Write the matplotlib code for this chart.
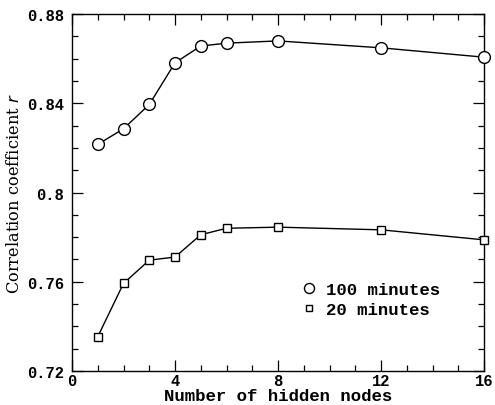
import matplotlib
matplotlib.use('Agg')
import matplotlib.pyplot as plt
from matplotlib.ticker import MultipleLocator

# values
hidden_nodes = [1, 2, 3, 4, 5, 6, 8, 12, 16]
r_100min = [0.8216, 0.8286, 0.8395, 0.8582, 0.8657, 0.8670, 0.8680, 0.8649, 0.8607]
r_20min = [0.7354, 0.7593, 0.7697, 0.7711, 0.7811, 0.7840, 0.7845, 0.7833, 0.7788]
x_ticks = [0, 4, 8, 12, 16]
y_ticks = [0.72, 0.76, 0.8, 0.84, 0.88]
y_tick_labels = ['0.72', '0.76', '0.8', '0.84', '0.88']

MONO = 'Liberation Mono'
SERIF = 'DejaVu Serif'
plt.rcParams['font.family'] = MONO

fig = plt.figure(figsize=(4.95, 4.06), dpi=100)
ax = fig.add_axes([0.1455, 0.0837, 0.8325, 0.879])

ax.plot(hidden_nodes, r_100min, color='black', lw=1.0, marker='o', ms=8.5,
        mfc='white', mec='black', mew=1.0, label='100 minutes', clip_on=False, zorder=3)
ax.plot(hidden_nodes, r_20min, color='black', lw=1.0, marker='s', ms=5.5,
        mfc='white', mec='black', mew=1.0, label='20 minutes', clip_on=False, zorder=3)

ax.set_xlim(0, 16)
ax.set_ylim(0.72, 0.88)
ax.set_xticks(x_ticks)
ax.set_yticks(y_ticks)
ax.set_yticklabels(y_tick_labels)
ax.xaxis.set_minor_locator(MultipleLocator(1))
ax.yaxis.set_minor_locator(MultipleLocator(0.01))
ax.tick_params(which='both', direction='in', top=True, right=True, width=0.9, colors='black')
ax.tick_params(which='major', length=8)
ax.tick_params(which='minor', length=4)
ax.tick_params(axis='x', pad=1.5)
ax.tick_params(axis='y', pad=6)
for lab in ax.get_xticklabels() + ax.get_yticklabels():
    lab.set_fontsize(11.2)
    lab.set_fontweight('bold')
for s in ax.spines.values():
    s.set_linewidth(1.0)

ax.set_xlabel('Number of hidden nodes', fontsize=12.5, fontweight='bold', labelpad=0)
ax.set_ylabel('Correlation coefficient $\\mathit{r}$', fontsize=11.7, family=SERIF, labelpad=3)

leg = ax.legend(loc='center left', bbox_to_anchor=(0.52, 0.20), frameon=False,
                prop={'family': MONO, 'size': 12.5, 'weight': 'bold'},
                handlelength=0.8, handletextpad=0.6, labelspacing=0.3,
                markerscale=0.85)
for h in leg.legend_handles:
    h.set_linestyle('none')

fig.savefig('out.png', dpi=100)
